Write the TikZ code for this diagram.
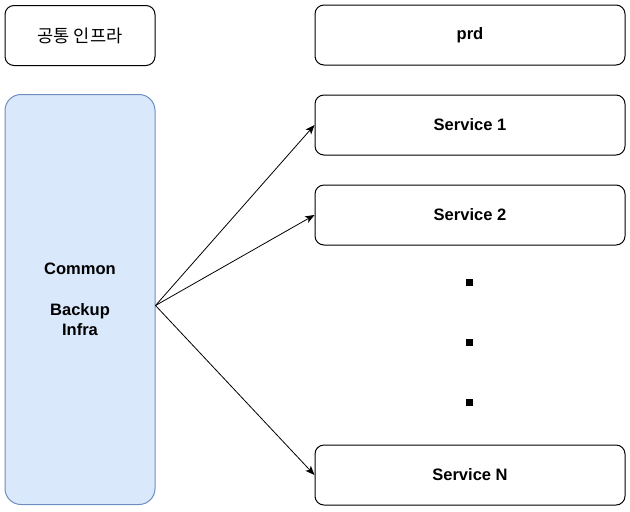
\documentclass[tikz,border=0pt]{standalone}
\usepackage{fontspec}
\setmainfont{Liberation Sans}
\newfontfamily\krfont{Noto Sans CJK KR}
\usetikzlibrary{arrows.meta}
\definecolor{bfill}{HTML}{DAE8FC}
\definecolor{bline}{HTML}{6C8EBF}
\tikzset{
  box/.style={draw=black, fill=white, line width=0.75pt, rounded corners=6.75pt,
    minimum width=232.5pt, minimum height=45pt, inner sep=0pt, align=center,
    font=\fontsize{12.4}{15}\selectfont\bfseries},
  smallbox/.style={box, minimum width=112.5pt},
  bluebox/.style={draw=bline, fill=bfill, line width=0.75pt, rounded corners=12pt,
    minimum width=112.5pt, minimum height=307.5pt, inner sep=0pt, align=center,
    font=\fontsize{12.4}{15.3}\selectfont\bfseries},
  dotsq/.style={fill=black, minimum size=5.25pt, inner sep=0pt},
  conn/.style={draw=black, line width=0.6pt, -{Stealth[length=7pt,width=5.5pt,inset=1.8pt]}}
}
\begin{document}
\begin{tikzpicture}[x=0.75pt,y=-0.75pt]
\useasboundingbox (0,0) rectangle (630,511);
\node[smallbox, font=\fontsize{13.2}{15}\selectfont\krfont] (infra) at (80,35.5) {공통 인프라};
\node[box] (prd) at (470,35) {prd};
\node[bluebox] (backup) at (80,299.5) {Common\\[15.3pt]Backup\\Infra};
\node[box] (s1) at (470,125) {Service 1};
\node[box] (s2) at (470,215) {Service 2};
\node[box] (sN) at (470,475) {Service N};
\node[dotsq] (d1) at (469.5,282.5) {};
\node[dotsq] (d2) at (469.5,342.5) {};
\node[dotsq] (d3) at (469.5,402.5) {};
\coordinate (org) at ([yshift=-4.5pt]backup.east);
\draw[conn] (org) -- (s1.west);
\draw[conn] (org) -- (s2.west);
\draw[conn] (org) -- (sN.west);
\end{tikzpicture}
\end{document}
